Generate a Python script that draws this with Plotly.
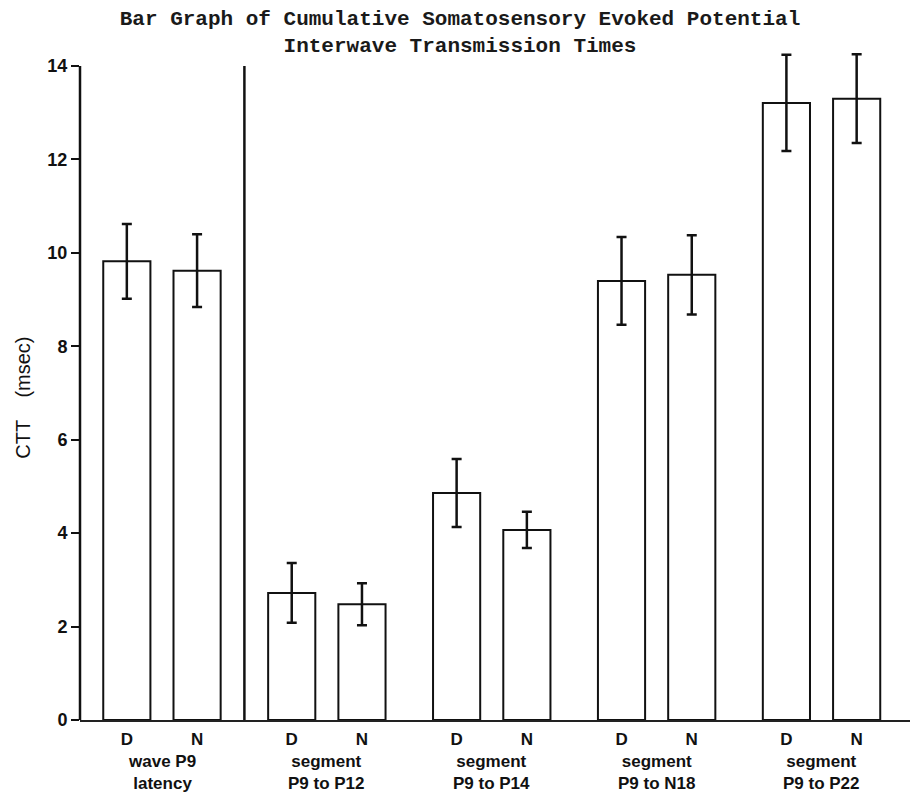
import plotly.graph_objects as go

# ---- data ----
group_labels = ["wave P9<br>latency", "segment<br>P9 to P12", "segment<br>P9 to P14",
                "segment<br>P9 to N18", "segment<br>P9 to P22"]
series_names = ["D", "N"]
d_values = [9.82, 2.72, 4.86, 9.40, 13.21]
d_errors = [0.80, 0.64, 0.73, 0.94, 1.03]
n_values = [9.62, 2.48, 4.07, 9.53, 13.30]
n_errors = [0.78, 0.45, 0.39, 0.85, 0.95]
y_ticks = [0, 2, 4, 6, 8, 10, 12, 14]

title_text = ("Bar Graph of Cumulative Somatosensory Evoked Potential<br>"
              "Interwave Transmission Times")
y_title = "CTT&nbsp;&nbsp;&nbsp;&nbsp;(msec)"

# ---- layout helpers ----
offset = 0.213
bar_w = 0.286
gidx = list(range(len(group_labels)))
d_x = [g - offset for g in gidx]
n_x = [g + offset for g in gidx]

SANS = "Liberation Sans, Arial, sans-serif"
LABEL_FONT = dict(family=SANS, size=17, color="#111", weight=700)

fig = go.Figure()
for name, xs, vals, errs in [("D", d_x, d_values, d_errors), ("N", n_x, n_values, n_errors)]:
    fig.add_trace(go.Bar(
        name=name, x=xs, y=vals, width=bar_w,
        marker=dict(color="white", line=dict(color="#111", width=2)),
        error_y=dict(type="data", array=errs, visible=True, color="#111",
                     thickness=2.5, width=5),
        showlegend=False,
    ))

# axis line (left) and separator after first group
top = max(y_ticks)
fig.add_shape(type="line", xref="paper", x0=0, x1=0, yref="y", y0=0, y1=top,
              line=dict(color="#111", width=2.5))
sep = (gidx[0] + gidx[1]) / 2
fig.add_shape(type="line", xref="x", x0=sep, x1=sep, yref="y", y0=0, y1=top,
              line=dict(color="#111", width=2.5))

# group labels
for g, lab in zip(gidx, group_labels):
    fig.add_annotation(x=g, xref="x", y=0, yref="paper", yanchor="top", yshift=-30,
                       text=lab, showarrow=False, font=LABEL_FONT)

# y-axis title
fig.add_annotation(x=0, xref="paper", xshift=-70, y=6.9, yref="y",
                   text=y_title, textangle=-90, showarrow=False,
                   font=dict(family=SANS, size=20, color="#111"))

fig.update_layout(
    width=910, height=787,
    margin=dict(l=72, r=0, t=30, b=75),
    paper_bgcolor="white", plot_bgcolor="white",
    barmode="overlay",
    title=dict(text=title_text, x=0.4967, xref="container", xanchor="center",
               y=0.979, yref="container", yanchor="top",
               font=dict(family="Liberation Mono, Courier New, monospace", size=21,
                         color="#1a1a1a", weight=700)),
    xaxis=dict(range=[-0.497, 4.585], showgrid=False, zeroline=False,
               showline=True, linecolor="#222", linewidth=2,
               tickvals=d_x + n_x,
               ticktext=[series_names[0]] * len(d_x) + [series_names[1]] * len(n_x),
               ticks="", tickfont=LABEL_FONT, ticklabelstandoff=3),
    yaxis=dict(range=[0, 14.6], showgrid=False, zeroline=False, showline=False,
               tickvals=y_ticks, ticks="outside", ticklen=8, tickwidth=2, tickcolor="#111",
               tickfont=dict(family=SANS, size=18, color="#111", weight=700)),
)

fig.write_html("out.html")
